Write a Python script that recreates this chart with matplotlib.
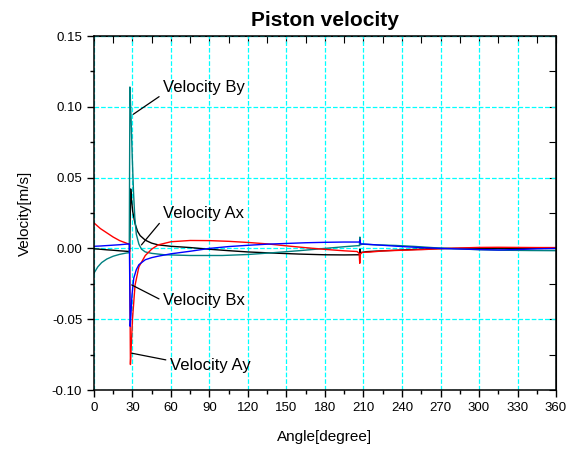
import numpy as np
import matplotlib
matplotlib.use('Agg')
import matplotlib.pyplot as plt
from matplotlib.ticker import MultipleLocator

plt.rcParams['font.family'] = ['Liberation Sans', 'DejaVu Sans']

# Velocity Ax (black)
ax_deg = [0, 5, 10, 15, 20, 25, 27.8, 28.6, 29.3, 30.2, 32, 34, 36, 40, 45, 50, 60,
          75, 90, 105, 120, 140, 160, 180, 195, 205, 206.8, 207.2, 207.8, 212, 220,
          235, 250, 265, 280, 300, 320, 340, 360]
ax_vel = [-0.0003, -0.0006, -0.001, -0.0013, -0.0017, -0.002, -0.0022, 0.042, 0.034,
          0.026, 0.0175, 0.012, 0.009, 0.0058, 0.0037, 0.0025, 0.0015,
          0.0006, -0.0006, -0.0016, -0.0025, -0.0033, -0.004, -0.0045, -0.0046, -0.0045,
          -0.0045, -0.0005, -0.003, -0.0023, -0.0019,
          -0.0013, -0.0007, -0.0002, 0.0, 0.0001, 0.0001, 0.0, 0.0]

# Velocity Ay (red)
ay_deg = [0, 5, 10, 15, 20, 25, 27.8, 28.4, 29, 30, 32, 35, 40, 45, 50, 60, 75, 90,
          105, 120, 135, 150, 165, 180, 195, 205, 206.6, 207.1, 207.6, 209, 215, 225,
          240, 255, 270, 285, 300, 315, 330, 345, 360]
ay_vel = [0.018, 0.014, 0.011, 0.008, 0.0055, 0.0038, 0.0028, -0.082, -0.07, -0.05,
          -0.026, -0.013, -0.005, -0.0005, 0.0025, 0.0047, 0.0056, 0.0055,
          0.005, 0.0042, 0.0032, 0.0018, 0.0005, -0.0007, -0.0017, -0.0022, -0.0035,
          -0.0105, -0.004, -0.0028, -0.0026, -0.0018,
          -0.0013, -0.0009, -0.0002, 0.0003, 0.0007, 0.0008, 0.0007, 0.0006, 0.0006]

# Velocity Bx (blue)
bx_deg = [0, 5, 10, 15, 20, 25, 27.6, 28.2, 28.8, 29.6, 31, 33, 35, 40, 45, 50, 60,
          75, 90, 105, 120, 135, 150, 165, 180, 195, 205, 206.8, 207.2, 207.8, 212,
          225, 240, 255, 270, 285, 300, 315, 330, 345, 360]
bx_vel = [0.0015, 0.0017, 0.002, 0.0023, 0.0026, 0.003, 0.0032, -0.055, -0.047,
          -0.033, -0.021, -0.015, -0.0115, -0.008, -0.0065, -0.0055, -0.0038,
          -0.002, 0.0, 0.0013, 0.0022, 0.003, 0.0035, 0.004, 0.0043, 0.0045, 0.0045,
          0.0045, 0.006, 0.0032, 0.003,
          0.0022, 0.0013, 0.0006, 0.0, -0.0004, -0.0008, -0.0011, -0.0008, -0.0003, 0.0]

# Velocity By (teal)
by_deg = [0, 3, 6, 10, 15, 20, 25, 27.5, 28.0, 28.9, 29.8, 30.8, 31.8, 33, 35, 37,
          40, 45, 55, 75, 100, 120, 140, 160, 180, 195, 205, 206.8, 207.2, 207.6, 209,
          220, 235, 250, 265, 280, 300, 320, 340, 360]
by_vel = [-0.0175, -0.013, -0.01, -0.0075, -0.0055, -0.0042, -0.0033, -0.003, 0.114,
          0.092, 0.065, 0.04, 0.022, 0.01, 0.003, -0.0005,
          -0.0025, -0.0035, -0.0045, -0.005, -0.005, -0.0043, -0.003, -0.0016, 0.0,
          0.0012, 0.0019, 0.0019, 0.008, 0.0025, 0.003,
          0.0025, 0.0021, 0.0014, 0.0005, -0.0002, -0.0009, -0.0013, -0.0015, -0.0016]

fig = plt.figure(figsize=(5.79, 4.5), dpi=100)
ax = fig.add_axes([0.1623, 0.1333, 0.798, 0.7867])

ax.plot(ax_deg, ax_vel, color='black', lw=1)
ax.plot(by_deg, by_vel, color='#008080', lw=1)
ax.plot(ay_deg, ay_vel, color='#ff0000', lw=1)
ax.plot(bx_deg, bx_vel, color='#0000ff', lw=1)

ax.set_xlim(0, 360)
ax.set_ylim(-0.10, 0.15)
ax.xaxis.set_major_locator(MultipleLocator(30))
ax.xaxis.set_minor_locator(MultipleLocator(15))
ax.yaxis.set_major_locator(MultipleLocator(0.05))
ax.yaxis.set_minor_locator(MultipleLocator(0.025))
ax.yaxis.set_major_formatter(plt.FormatStrFormatter('%.2f'))

ax.grid(True, which='major', color='#00ffff', linestyle='--', lw=0.9)
ax.tick_params(which='both', direction='out', labelsize=9.5, width=1)
ax.tick_params(which='major', length=5)
ax.tick_params(which='minor', length=3)
for spine in ax.spines.values():
    spine.set_linewidth(1.1)

# mirrored ticks on top and right, pointing inward
top = ax.secondary_xaxis('top')
top.set_xticks(np.arange(0, 361, 15))
top.tick_params(direction='in', length=5, labeltop=False)
right = ax.secondary_yaxis('right')
right.set_yticks(np.arange(-0.1, 0.151, 0.025))
right.tick_params(direction='in', length=5, labelright=False)

ax.set_title('Piston velocity', fontsize=15, fontweight='bold', pad=7)
ax.set_xlabel('Angle[degree]', fontsize=11, labelpad=12)
ax.set_ylabel('Velocity[m/s]', fontsize=11, labelpad=14)

notes = [('Velocity By', (30.6, 0.0947), (53.8, 0.1133), (0, 0.1)),
         ('Velocity Ax', (37.0, 0.0025), (53.8, 0.025), (0, 0.1)),
         ('Velocity Bx', (29.4, -0.0258), (53.8, -0.0371), (0, 0.5)),
         ('Velocity Ay', (29.4, -0.074), (59.2, -0.083), (0, 0.85))]
for label, xy, xytext, rp in notes:
    ax.annotate(label, xy=xy, xytext=xytext, fontsize=12, ha='left', va='center',
                arrowprops=dict(arrowstyle='-', color='black', lw=0.9,
                                relpos=rp, shrinkA=1, shrinkB=0))

fig.savefig('out.png', dpi=100)
